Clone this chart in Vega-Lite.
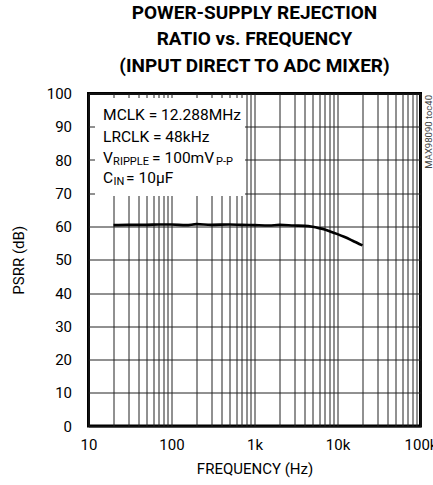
{
  "$schema": "https://vega.github.io/schema/vega-lite/v6.json",
  "autosize": "none",
  "width": 332,
  "height": 332.5,
  "padding": {"left": 88.5, "top": 93.5, "right": 12.5, "bottom": 59},
  "background": "white",
  "title": {
    "text": ["POWER-SUPPLY REJECTION", "RATIO vs. FREQUENCY", "(INPUT DIRECT TO ADC MIXER)"],
    "font": "Roboto",
    "fontWeight": "bold",
    "fontSize": 19,
    "lineHeight": 26.5,
    "frame": "group",
    "anchor": "middle",
    "offset": 11,
    "color": "black"
  },
  "datasets": {
    "psrr": [
      {"freq": 20, "psrr": 60.4},
      {"freq": 30, "psrr": 60.5},
      {"freq": 50, "psrr": 60.5},
      {"freq": 70, "psrr": 60.6},
      {"freq": 100, "psrr": 60.6},
      {"freq": 150, "psrr": 60.4},
      {"freq": 200, "psrr": 60.7},
      {"freq": 300, "psrr": 60.5},
      {"freq": 500, "psrr": 60.6},
      {"freq": 700, "psrr": 60.5},
      {"freq": 1000, "psrr": 60.4},
      {"freq": 1500, "psrr": 60.3},
      {"freq": 2000, "psrr": 60.5},
      {"freq": 3000, "psrr": 60.3},
      {"freq": 4000, "psrr": 60.2},
      {"freq": 5000, "psrr": 59.9},
      {"freq": 6000, "psrr": 59.5},
      {"freq": 7000, "psrr": 59.1},
      {"freq": 8000, "psrr": 58.6},
      {"freq": 10000, "psrr": 57.7},
      {"freq": 12000, "psrr": 56.9},
      {"freq": 15000, "psrr": 55.8},
      {"freq": 20000, "psrr": 54.3}
    ],
    "note": [{"label": "conditions"}]
  },
  "resolve": {"axis": {"x": "independent", "y": "independent"}},
  "layer": [
    {
      "data": {"name": "psrr"},
      "mark": {"type": "line", "color": "black", "strokeWidth": 2.6, "interpolate": "monotone"},
      "encoding": {
        "x": {
          "field": "freq",
          "type": "quantitative",
          "scale": {"type": "log", "domain": [10, 100000], "nice": false},
          "axis": {
            "title": "FREQUENCY (Hz)",
            "values": [10, 20, 30, 40, 50, 60, 70, 80, 90, 100, 200, 300, 400, 500, 600, 700, 800, 900, 1000, 2000, 3000, 4000, 5000, 6000, 7000, 8000, 9000, 10000, 20000, 30000, 40000, 50000, 60000, 70000, 80000, 90000, 100000],
            "labelExpr": "datum.value == 10 ? '10' : datum.value == 100 ? '100' : datum.value == 1000 ? '1k' : datum.value == 10000 ? '10k' : datum.value == 100000 ? '100k' : ''",
            "labelFlush": false,
            "labelOverlap": false,
            "labelPadding": 11,
            "titlePadding": 9
          }
        },
        "y": {
          "field": "psrr",
          "type": "quantitative",
          "scale": {"domain": [0, 100], "nice": false, "zero": false},
          "axis": {
            "title": "PSRR (dB)",
            "values": [0, 10, 20, 30, 40, 50, 60, 70, 80, 90, 100],
            "labelPadding": 17,
            "titlePadding": 20
          }
        }
      }
    },
    {
      "data": {"name": "note"},
      "mark": {"type": "point", "shape": "M-1,-0.653H1V0.653H-1Z", "size": 22500, "filled": true, "color": "white", "opacity": 1, "strokeWidth": 0},
      "encoding": {
        "x": {"datum": 95.9, "type": "quantitative", "axis": null},
        "y": {"datum": 83.9, "type": "quantitative", "axis": null}
      }
    },
    {
      "data": {"name": "note"},
      "mark": {"type": "text", "align": "left", "baseline": "alphabetic", "fontSize": 15.5, "color": "black"},
      "encoding": {"x": {"datum": 15, "type": "quantitative", "axis": null}, "y": {"datum": 91.9, "type": "quantitative", "axis": null}, "text": {"value": "MCLK = 12.288MHz"}}
    },
    {
      "data": {"name": "note"},
      "mark": {"type": "text", "align": "left", "baseline": "alphabetic", "fontSize": 15.5, "color": "black"},
      "encoding": {"x": {"datum": 15, "type": "quantitative", "axis": null}, "y": {"datum": 85.3, "type": "quantitative", "axis": null}, "text": {"value": "LRCLK = 48kHz"}}
    },
    {
      "data": {"name": "note"},
      "mark": {"type": "text", "align": "left", "baseline": "alphabetic", "fontSize": 15.5, "color": "black"},
      "encoding": {"x": {"datum": 15, "type": "quantitative", "axis": null}, "y": {"datum": 79.0, "type": "quantitative", "axis": null}, "text": {"value": "V"}}
    },
    {
      "data": {"name": "note"},
      "mark": {"type": "text", "align": "left", "baseline": "alphabetic", "fontSize": 11, "dx": 10, "dy": 1.5, "color": "black"},
      "encoding": {"x": {"datum": 15, "type": "quantitative", "axis": null}, "y": {"datum": 79.0, "type": "quantitative", "axis": null}, "text": {"value": "RIPPLE"}}
    },
    {
      "data": {"name": "note"},
      "mark": {"type": "text", "align": "left", "baseline": "alphabetic", "fontSize": 15.5, "dx": 49, "color": "black"},
      "encoding": {"x": {"datum": 15, "type": "quantitative", "axis": null}, "y": {"datum": 79.0, "type": "quantitative", "axis": null}, "text": {"value": " = 100mV"}}
    },
    {
      "data": {"name": "note"},
      "mark": {"type": "text", "align": "left", "baseline": "alphabetic", "fontSize": 11, "dx": 113, "dy": 1.5, "color": "black"},
      "encoding": {"x": {"datum": 15, "type": "quantitative", "axis": null}, "y": {"datum": 79.0, "type": "quantitative", "axis": null}, "text": {"value": "P-P"}}
    },
    {
      "data": {"name": "note"},
      "mark": {"type": "text", "align": "left", "baseline": "alphabetic", "fontSize": 15.5, "color": "black"},
      "encoding": {"x": {"datum": 15, "type": "quantitative", "axis": null}, "y": {"datum": 73.0, "type": "quantitative", "axis": null}, "text": {"value": "C"}}
    },
    {
      "data": {"name": "note"},
      "mark": {"type": "text", "align": "left", "baseline": "alphabetic", "fontSize": 11, "dx": 10.5, "dy": 1.5, "color": "black"},
      "encoding": {"x": {"datum": 15, "type": "quantitative", "axis": null}, "y": {"datum": 73.0, "type": "quantitative", "axis": null}, "text": {"value": "IN"}}
    },
    {
      "data": {"name": "note"},
      "mark": {"type": "text", "align": "left", "baseline": "alphabetic", "fontSize": 15.5, "dx": 23, "color": "black"},
      "encoding": {"x": {"datum": 15, "type": "quantitative", "axis": null}, "y": {"datum": 73.0, "type": "quantitative", "axis": null}, "text": {"value": " = 10µF"}}
    },
    {
      "data": {"name": "note"},
      "mark": {"type": "text", "align": "right", "baseline": "middle", "angle": 270, "fontSize": 9.5, "dx": -1.5, "dy": 8, "color": "#444"},
      "encoding": {"x": {"datum": 100000, "type": "quantitative", "axis": null}, "y": {"datum": 100, "type": "quantitative", "axis": null}, "text": {"value": "MAX98090 toc40"}}
    }
  ],
  "config": {
    "font": "Roboto",
    "view": {"stroke": "black", "strokeWidth": 3},
    "text": {"font": "Roboto"},
    "axis": {
      "grid": true,
      "gridColor": "#222",
      "gridWidth": 1,
      "gridOpacity": 1,
      "ticks": false,
      "domain": false,
      "labelFont": "Roboto",
      "labelFontSize": 15,
      "labelColor": "black",
      "titleFont": "Roboto",
      "titleFontSize": 15,
      "titleFontWeight": "normal",
      "titleColor": "black"
    }
  }
}
